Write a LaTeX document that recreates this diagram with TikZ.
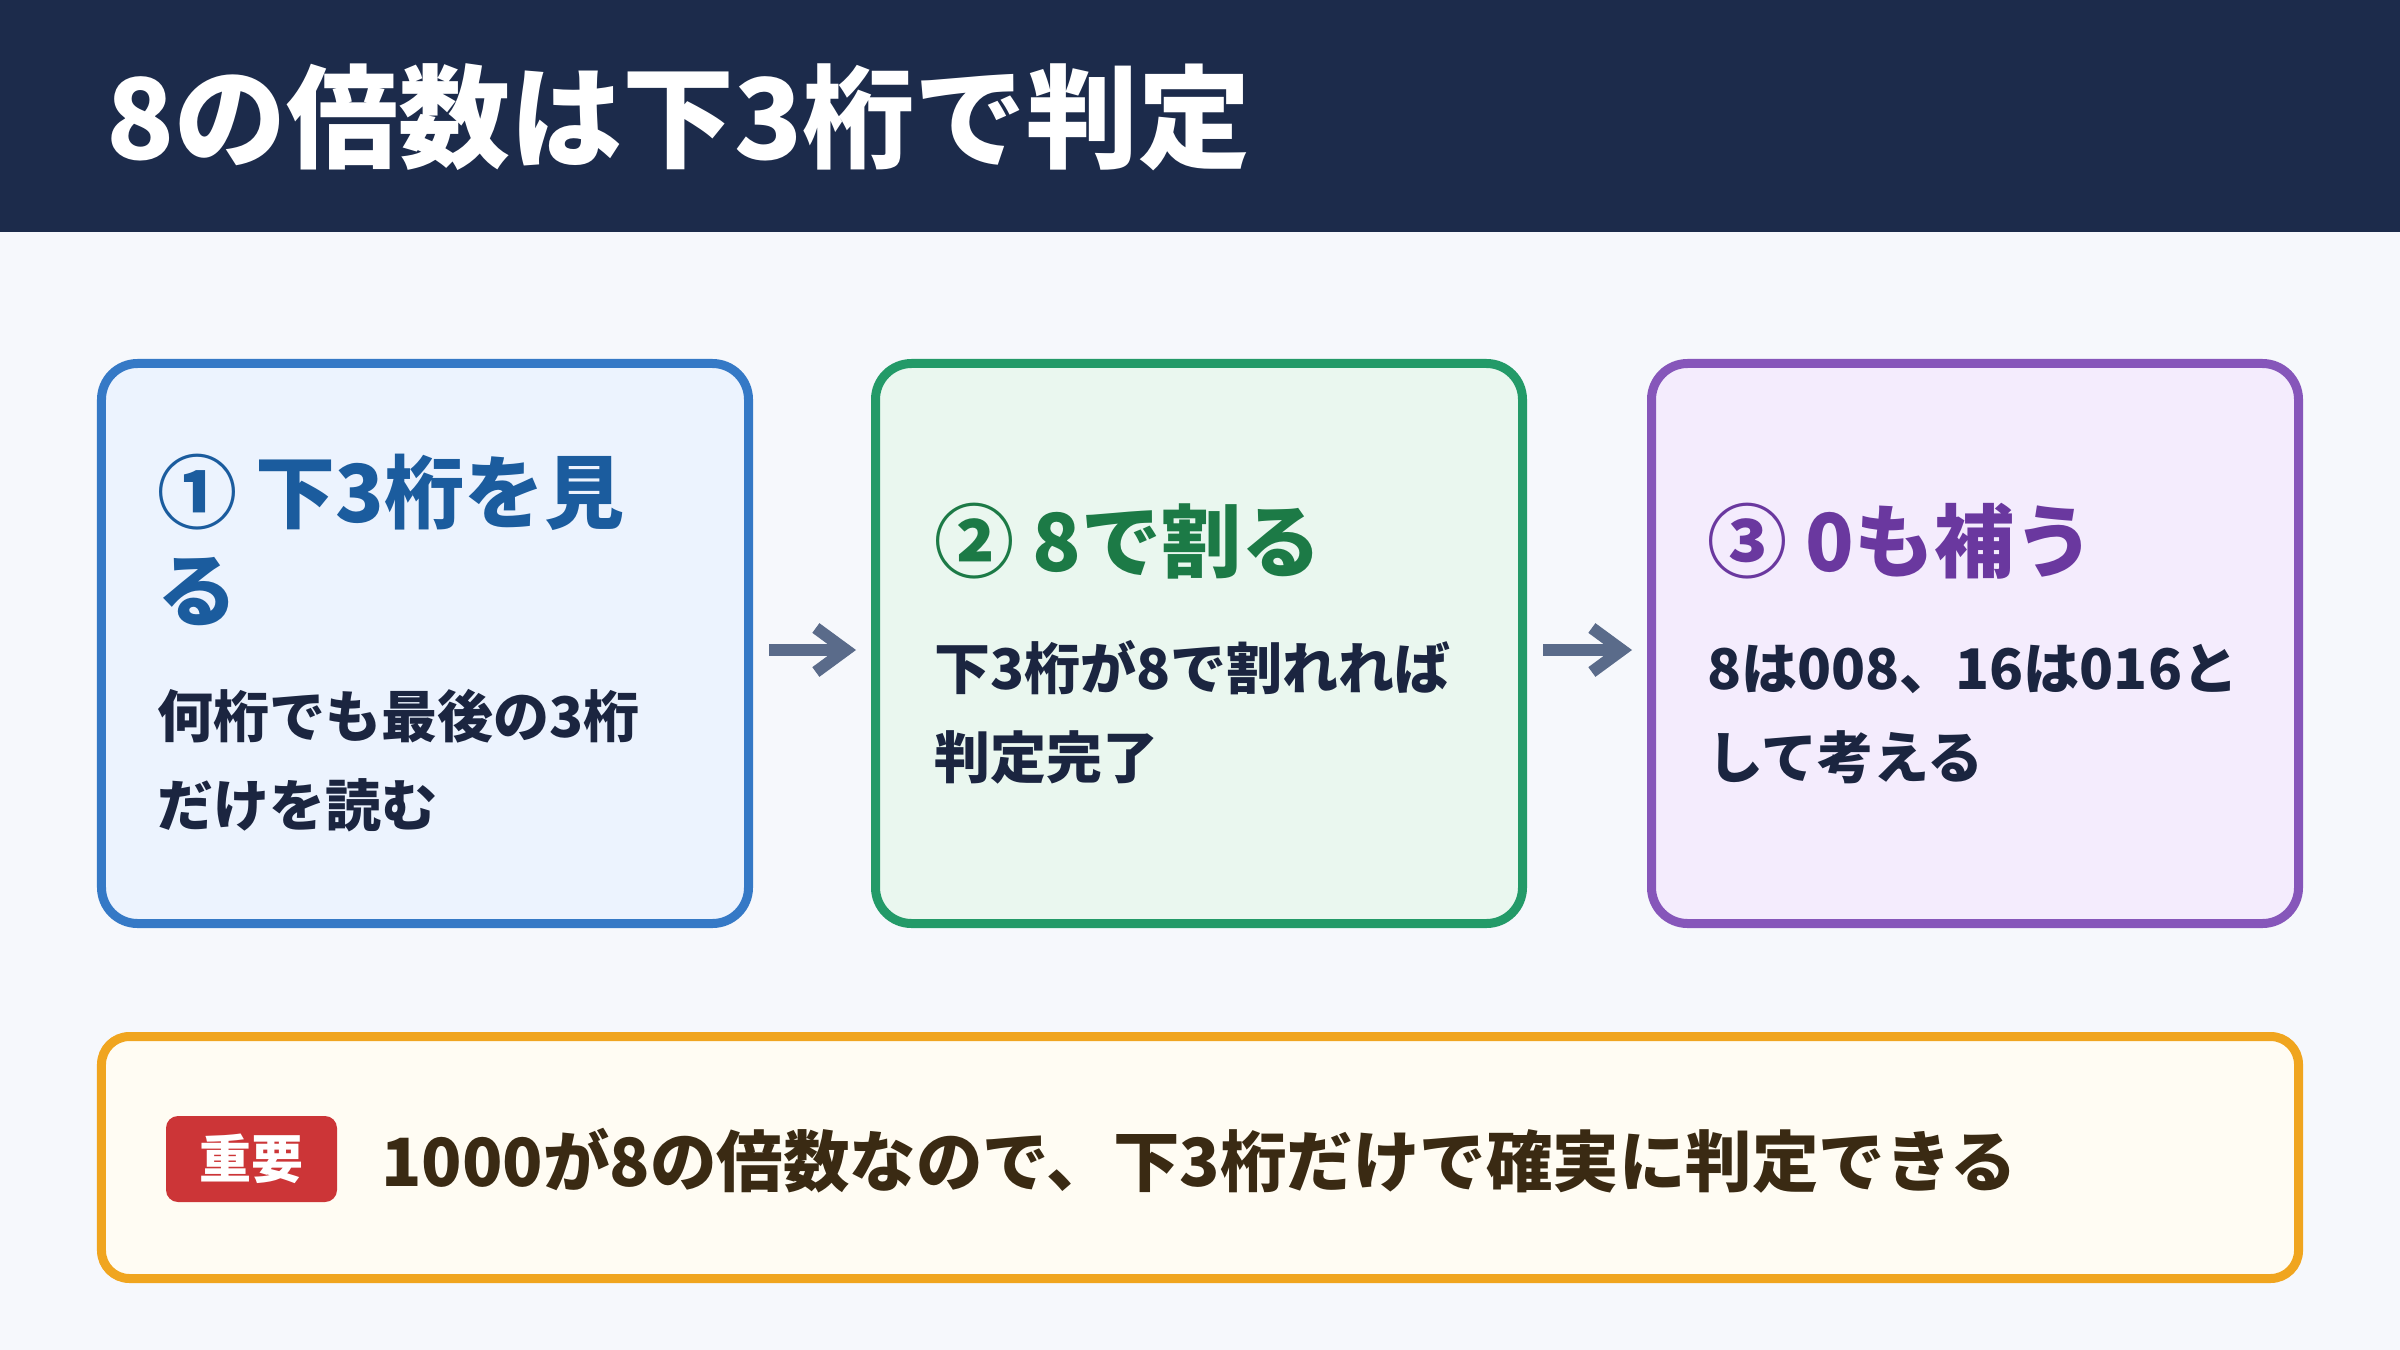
\documentclass[tikz,border=0pt]{standalone}
\usepackage{fontspec}
\setmainfont{Noto Sans CJK JP}
\usetikzlibrary{arrows.meta}
\definecolor{bgc}{HTML}{F6F8FC}
\definecolor{hdr}{HTML}{1C2B4B}
\definecolor{bodyc}{HTML}{1B2540}
\definecolor{aline}{HTML}{3579C6}
\definecolor{afill}{HTML}{ECF3FE}
\definecolor{atext}{HTML}{1B5C9E}
\definecolor{bline}{HTML}{239A68}
\definecolor{bfill}{HTML}{EAF7EF}
\definecolor{btext}{HTML}{1C7A46}
\definecolor{cline}{HTML}{8656BA}
\definecolor{cfill}{HTML}{F4ECFD}
\definecolor{ctext}{HTML}{6A389F}
\definecolor{oline}{HTML}{F0A51F}
\definecolor{ofill}{HTML}{FFFCF3}
\definecolor{otext}{HTML}{3A2A13}
\definecolor{badgec}{HTML}{CC3537}
\definecolor{arrc}{HTML}{5A6B8A}
\newcommand\fsz[1]{\fontsize{#1bp}{#1bp}\selectfont\bfseries}
\begin{document}
\begin{tikzpicture}[x=1bp,y=-1bp,
  card/.style={rounded corners=36bp, line width=9bp, minimum width=647bp, minimum height=560bp, inner sep=0pt},
  ttl/.style={anchor=base west, inner sep=0pt, font=\fsz{80}},
  txt/.style={anchor=base west, inner sep=0pt, text=bodyc, font=\fsz{56}},
  arr/.style={draw=arrc, line width=12bp, -{Straight Barb[length=30bp,width=44bp]}}]
\useasboundingbox (0,0) rectangle (2400,1350);
\fill[bgc] (0,0) rectangle (2400,1350);
\fill[hdr] (0,0) rectangle (2400,232);
\node[anchor=base west, inner sep=0pt, text=white, font=\fsz{112}] (title) at (106,160) {8の倍数は下3桁で判定};

\node[card, draw=aline, fill=afill] (c1) at (425,643.5) {};
\node[card, draw=bline, fill=bfill] (c2) at (1199,643.5) {};
\node[card, draw=cline, fill=cfill] (c3) at (1975,643.5) {};

\node[ttl, text=atext] (t1a) at (157,522) {① 下3桁を見};
\node[ttl, text=atext] (t1b) at (157,620) {る};
\node[txt] (b1a) at (157,737) {何桁でも最後の3桁};
\node[txt] (b1b) at (157,826) {だけを読む};

\node[ttl, text=btext] (t2) at (934,571) {② 8で割る};
\node[txt] (b2a) at (934,689) {下3桁が8で割れれば};
\node[txt] (b2b) at (934,778) {判定完了};

\node[ttl, text=ctext] (t3) at (1707,571) {③ 0も補う};
\node[txt] (b3a) at (1707,689) {8は008、16は016と};
\node[txt] (b3b) at (1707,778) {して考える};

\draw[arr] ([xshift=16bp,yshift=-6.5bp]c1.east) -- ([xshift=-15bp,yshift=-6.5bp]c2.west);
\draw[arr] ([xshift=16bp,yshift=-6.5bp]c2.east) -- ([xshift=-15bp,yshift=-6.5bp]c3.west);

\node[draw=oline, fill=ofill, line width=9bp, rounded corners=28bp, minimum width=2197bp, minimum height=242bp, inner sep=0pt] (note) at (1200,1157.5) {};
\node[fill=badgec, rounded corners=12bp, minimum width=171bp, minimum height=86bp, inner sep=0pt, text=white, font=\fsz{52}] (badge) at (251.5,1159) {重要};
\node[anchor=base west, inner sep=0pt, text=otext, font=\fsz{66.5}] (msg) at (381,1186) {1000が8の倍数なので、下3桁だけで確実に判定できる};
\end{tikzpicture}
\end{document}
